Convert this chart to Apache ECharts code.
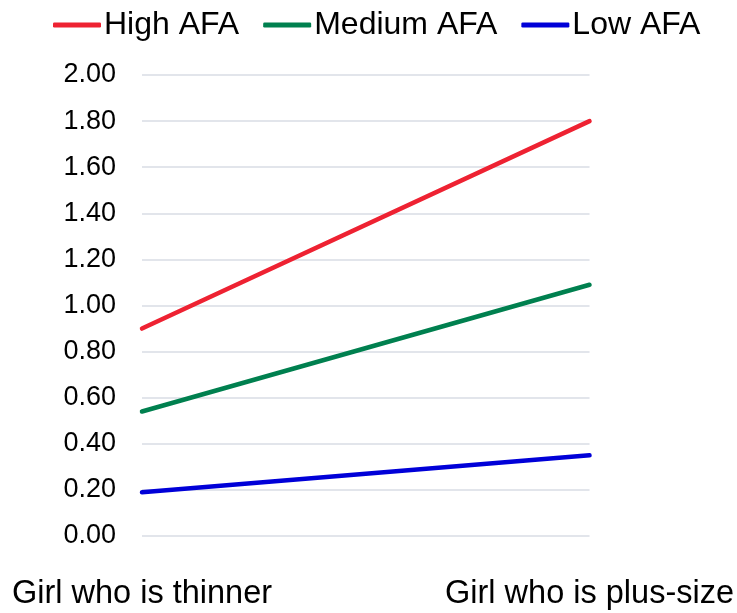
<!DOCTYPE html>
<html><head><meta charset="utf-8">
<script src="https://cdn.jsdelivr.net/npm/echarts@6/dist/echarts.min.js"></script>
<style>html,body{margin:0;padding:0;background:#fff}#c{width:737px;height:613px}</style>
</head><body><div id="c"></div>
<script>
const categories = ["Girl who is thinner", "Girl who is plus-size"];
const highAFA = [0.90, 1.80];
const mediumAFA = [0.54, 1.09];
const lowAFA = [0.19, 0.35];
const seriesNames = ["High AFA", "Medium AFA", "Low AFA"];
const colors = ["#ee2232", "#00804f", "#0000d8"];

const chart = echarts.init(document.getElementById('c'));
const mk = (name, data, color) => ({
  name, type: 'line', data, symbol: 'none', smooth: false,
  lineStyle: { color, width: 4.5, cap: 'round' }, itemStyle: { color }
});
chart.setOption({
  animation: false,
  legend: {
    top: 4, left: 48, itemWidth: 48, itemHeight: 5, itemGap: 24,
    icon: 'roundRect',
    textStyle: { fontFamily: 'Liberation Sans, Arial', fontSize: 32, color: '#000', padding: [0, 0, 0, -2] },
    data: seriesNames
  },
  grid: { left: 142, right: 147, top: 75, bottom: 77, containLabel: false },
  xAxis: {
    type: 'category', data: categories, boundaryGap: false,
    axisLine: { show: false }, axisTick: { show: false },
    axisLabel: { fontFamily: 'Liberation Sans, Arial', fontSize: 32.5, color: '#000', margin: 42 }
  },
  yAxis: {
    type: 'value', min: 0, max: 2, interval: 0.2,
    axisLine: { show: false }, axisTick: { show: false },
    axisLabel: { fontFamily: 'Liberation Sans, Arial', fontSize: 27, color: '#000', margin: 26,
      formatter: v => v.toFixed(2) },
    splitLine: { lineStyle: { color: '#d9dce5', width: 1.5 } }
  },
  series: [mk(seriesNames[0], highAFA, colors[0]), mk(seriesNames[1], mediumAFA, colors[1]), mk(seriesNames[2], lowAFA, colors[2])]
});
</script></body></html>
